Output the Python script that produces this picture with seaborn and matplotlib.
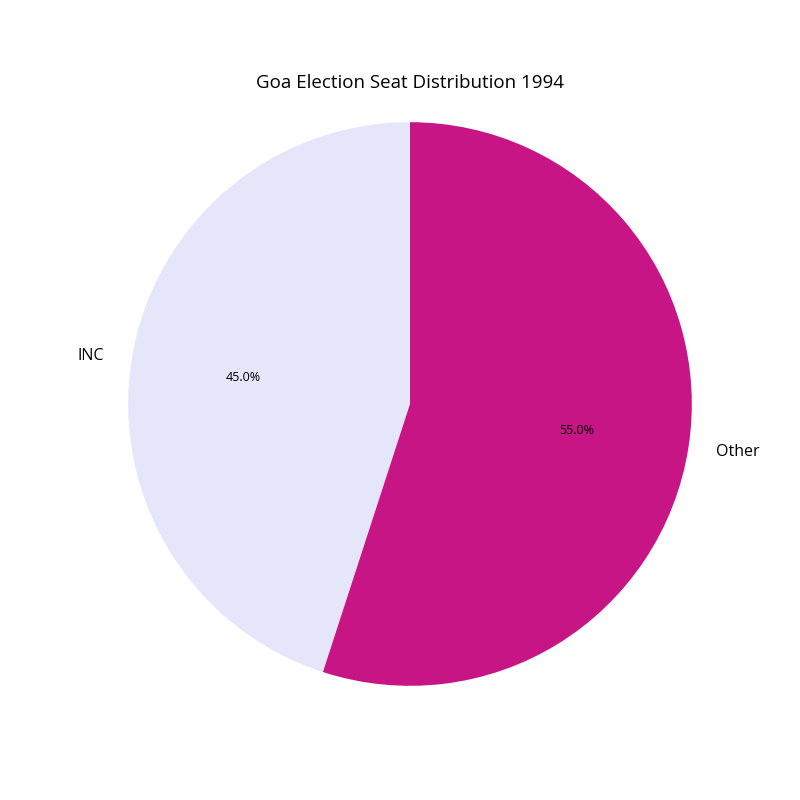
import matplotlib
matplotlib.use("Agg")
import matplotlib.pyplot as plt
import seaborn as sns

sns.set_theme(style="white")
plt.rcParams["font.family"] = ["Open Sans", "DejaVu Sans"]
plt.rcParams["text.color"] = "black"

parties = ["INC", "Other"]
seat_share = [45.0, 55.0]
colors = ["#E6E6FA", "#C71585"]

fig, ax = plt.subplots(figsize=(8, 8), dpi=100)
wedges, texts, autotexts = ax.pie(
    seat_share,
    labels=parties,
    colors=colors,
    autopct="%1.1f%%",
    startangle=90,
    wedgeprops={"linewidth": 0},
)
for t in texts:
    t.set_fontsize(11.5)
    t.set_color("black")
for t in autotexts:
    t.set_fontsize(9)
    t.set_color("black")

ax.set_title("Goa Election Seat Distribution 1994", fontsize=13.5, color="black")
ax.axis("equal")

plt.savefig("out.png", dpi=100)
